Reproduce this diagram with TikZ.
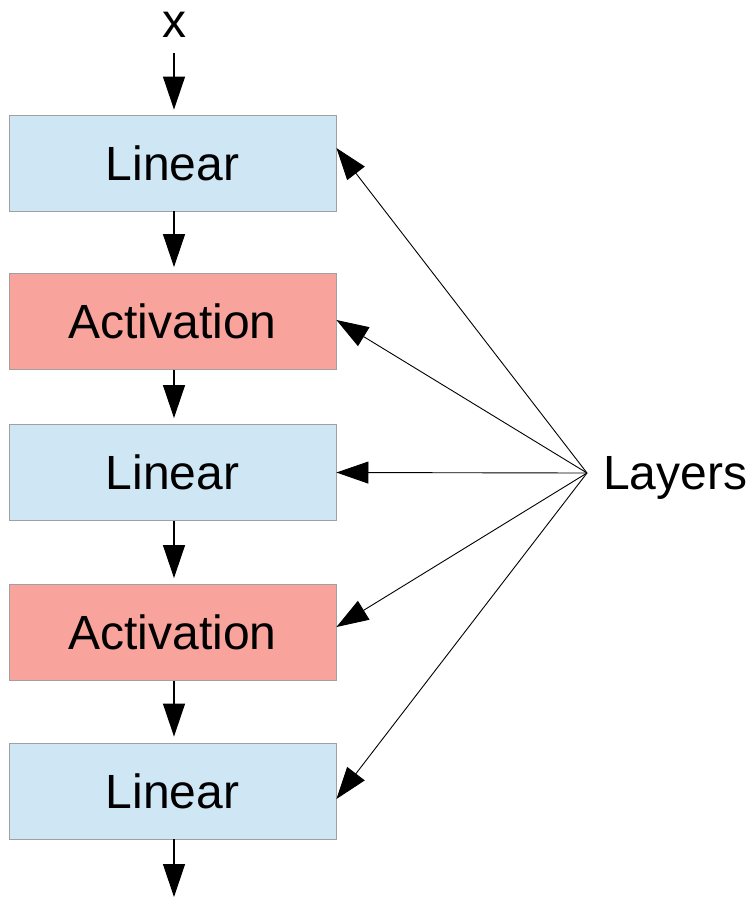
\documentclass[tikz,border=0pt]{standalone}
\usepackage{fontspec}
\setmainfont{Liberation Sans}
\usetikzlibrary{arrows.meta,calc}
\definecolor{linblue}{RGB}{207,231,245}
\definecolor{actred}{RGB}{248,163,156}
\definecolor{boxedge}{RGB}{160,160,160}
\begin{document}
\begin{tikzpicture}[x=1pt,y=-1pt,
  layerbox/.style={draw=boxedge,line width=0.9pt,minimum width=327pt,minimum height=96pt,inner sep=0pt,font=\fontsize{48}{52}\selectfont},
  linbox/.style={layerbox,fill=linblue},
  actbox/.style={layerbox,fill=actred},
  flow/.style={line width=1.3pt,-{Triangle[length=33pt,width=22pt]}},
  side/.style={line width=0.9pt,-{Triangle[length=32pt,width=22pt]}}]
\useasboundingbox (0,0) rectangle (755,898);
\node[linbox] (b1) at (172.5,163) {Linear};
\node[actbox] (b2) at (172.5,321.5) {Activation};
\node[linbox] (b3) at (172.5,472.5) {Linear};
\node[actbox] (b4) at (172.5,632.5) {Activation};
\node[linbox] (b5) at (172.5,791) {Linear};
\node[inner sep=0pt,font=\fontsize{48}{52}\selectfont,anchor=base] (x) at (174,37) {x};
\coordinate (xs) at (174,53);
\coordinate (out) at (174,897);
\coordinate (L) at (587,473);
\node[inner sep=0pt,font=\fontsize{48}{52}\selectfont,anchor=base west] (lab) at (603,489) {Layers};
\draw[flow,shorten >=5pt] (xs) -- (b1.north -| xs);
\draw[flow,shorten >=6pt] (b1.south -| xs) -- (b2.north -| xs);
\draw[flow,shorten >=6pt] (b2.south -| xs) -- (b3.north -| xs);
\draw[flow,shorten >=6pt] (b3.south -| xs) -- (b4.north -| xs);
\draw[flow,shorten >=6pt] (b4.south -| xs) -- (b5.north -| xs);
\draw[flow] (b5.south -| xs) -- (out);
\draw[side] (L) -- ([yshift=15pt]b1.east);
\draw[side] (L) -- ([yshift=1.5pt]b2.east);
\draw[side] (L) -- (b3.east);
\draw[side] (L) -- ([yshift=5.5pt]b4.east);
\draw[side] (L) -- ([yshift=-8pt]b5.east);
\end{tikzpicture}
\end{document}
